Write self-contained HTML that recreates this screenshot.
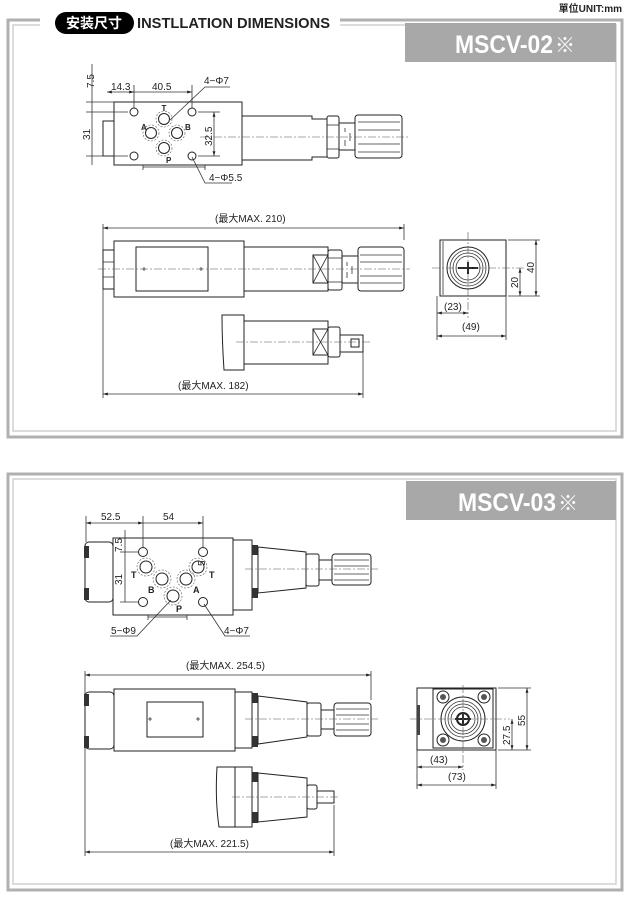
<!DOCTYPE html>
<html><head><meta charset="utf-8"><style>
html,body{margin:0;padding:0;background:#fff;}
svg{display:block;}
text{font-family:"Liberation Sans","Noto Sans CJK SC",sans-serif;fill:#222;}
.d{stroke:#333;stroke-width:0.8;fill:none;}
.o{stroke:#222;stroke-width:1;fill:#fff;}
.c{stroke:#555;stroke-width:0.6;stroke-dasharray:8 2 2 2;fill:none;}
.t{font-size:10px;}
</style></head><body>
<svg width="630" height="897" viewBox="0 0 630 897" xmlns="http://www.w3.org/2000/svg">
<defs>
<marker id="a" viewBox="0 0 10 10" refX="10" refY="5" markerWidth="6" markerHeight="6" orient="auto-start-reverse"><path d="M0,2 L10,5 L0,8z" fill="#222"/></marker>
</defs>
<text x="622" y="12" font-size="10" font-weight="bold" text-anchor="end">單位UNIT:mm</text>
<path d="M40,20 H8 V437 H622 V20 H340" fill="none" stroke="#b0b0b0" stroke-width="3"/>
<path d="M40,25 H13 V431 H616 V25 H340" fill="none" stroke="#d0d0d0" stroke-width="1.5"/>
<rect x="55" y="12" width="79" height="22" rx="11" fill="#000"/>
<text x="94" y="28" font-size="14" font-weight="bold" style="fill:#fff" text-anchor="middle">安装尺寸</text>
<text x="137" y="28" font-size="15" font-weight="bold" textLength="193" lengthAdjust="spacingAndGlyphs">INSTLLATION DIMENSIONS</text>
<rect x="405" y="23" width="211" height="39" fill="#a8a8a8"/>
<text x="455" y="53" font-size="25" font-weight="bold" style="fill:#fff" textLength="98" lengthAdjust="spacingAndGlyphs">MSCV-02</text>
<text x="555" y="52" font-size="20" style="fill:#fff">※</text>

<rect x="8" y="474" width="614" height="416" fill="none" stroke="#b0b0b0" stroke-width="3"/>
<rect x="13" y="479" width="603" height="405" fill="none" stroke="#d0d0d0" stroke-width="1.5"/>
<rect x="406" y="481" width="210" height="39" fill="#a8a8a8"/>
<text x="458" y="511" font-size="25" font-weight="bold" style="fill:#fff" textLength="98" lengthAdjust="spacingAndGlyphs">MSCV-03</text>
<text x="558" y="510" font-size="20" style="fill:#fff">※</text>

<g>
<rect class="o" x="103" y="121" width="11" height="35"/>
<rect class="o" x="114" y="102" width="128" height="63"/>
<path class="o" d="M242,116 H312 V119 H327 V157 H312 V160 H242Z"/>
<rect class="o" x="327" y="116" width="12" height="42" rx="2"/>
<line class="d" x1="327" y1="125" x2="339" y2="125"/><line class="d" x1="327" y1="149" x2="339" y2="149"/>
<rect class="o" x="339" y="123" width="16" height="27"/>
<rect class="o" x="355" y="115" width="47" height="43" rx="3"/>
<line class="d" x1="358" y1="122" x2="400" y2="122"/><line class="d" x1="358" y1="130" x2="400" y2="130"/><line class="d" x1="358" y1="144" x2="400" y2="144"/><line class="d" x1="358" y1="152" x2="400" y2="152"/>
<path class="d" d="M345,128 v4 M345,140 v6 M350,133 v8"/>
<line class="c" x1="200" y1="137" x2="410" y2="137"/>
<g class="o">
<circle cx="134" cy="112" r="4"/><circle cx="192" cy="112" r="4"/><circle cx="134" cy="156" r="4"/><circle cx="192" cy="156" r="4"/>
<circle cx="164" cy="119" r="5.5"/><circle cx="151" cy="133" r="5.5"/><circle cx="177" cy="133" r="5.5"/><circle cx="164" cy="148" r="5.5"/>
</g>
<g fill="none" stroke="#555" stroke-width="0.6" stroke-dasharray="2 1.5">
<circle cx="164" cy="119" r="8"/><circle cx="151" cy="133" r="8"/><circle cx="177" cy="133" r="8"/><circle cx="164" cy="148" r="8"/>
</g>
<text x="164" y="111" font-size="8" font-weight="bold" text-anchor="middle">T</text>
<text x="141" y="130" font-size="8" font-weight="bold">A</text>
<text x="185" y="130" font-size="8" font-weight="bold">B</text>
<text x="166" y="163" font-size="8" font-weight="bold">P</text>
<line class="d" x1="107" y1="92" x2="134" y2="92" marker-start="url(#a)" marker-end="url(#a)"/>
<line class="d" x1="134" y1="92" x2="192" y2="92" marker-end="url(#a)"/>
<line class="d" x1="134" y1="85" x2="134" y2="108"/><line class="d" x1="192" y1="85" x2="192" y2="108"/>
<text class="t" x="111" y="90">14.3</text><text class="t" x="152" y="90">40.5</text>
<line class="d" x1="92" y1="64" x2="92" y2="165"/>
<line class="d" x1="86" y1="102" x2="114" y2="102"/><line class="d" x1="86" y1="112" x2="128" y2="112"/><line class="d" x1="86" y1="156" x2="128" y2="156"/>
<text class="t" transform="translate(94,88) rotate(-90)">7.5</text>
<text class="t" transform="translate(90,140) rotate(-90)">31</text>
<line class="d" x1="214" y1="112" x2="214" y2="156" marker-start="url(#a)" marker-end="url(#a)"/>
<line class="d" x1="198" y1="112" x2="220" y2="112"/><line class="d" x1="198" y1="156" x2="220" y2="156"/>
<text class="t" transform="translate(212,146) rotate(-90)">32.5</text>
<path class="d" d="M170,120 L205,87 H230"/><text class="t" x="204" y="84">4−Φ7</text>
<path class="d" d="M192,157 L205,183 H232"/><text class="t" x="209" y="181">4−Φ5.5</text>
<path class="d" d="M143,165 v5 M205,165 v5 M143,167 H205"/>
</g>

<g>
<line class="d" x1="103" y1="224" x2="103" y2="398"/><line class="d" x1="404" y1="224" x2="404" y2="240"/>
<line class="d" x1="103" y1="228" x2="404" y2="228" marker-start="url(#a)" marker-end="url(#a)"/>
<text class="t" x="215" y="222">(最大MAX. 210)</text>
<rect class="o" x="103" y="250" width="11" height="39"/>
<line class="d" x1="103" y1="262" x2="114" y2="262"/><line class="d" x1="103" y1="277" x2="114" y2="277"/>
<rect class="o" x="114" y="241" width="130" height="56"/>
<rect class="o" x="136" y="247" width="72" height="44"/>
<path class="d" d="M142,269 h4 M144,267 v4 M199,269 h4 M201,267 v4"/>
<rect class="o" x="244" y="247" width="84" height="44"/>
<rect class="o" x="313" y="255" width="15" height="28"/><path class="d" d="M313,255 L328,283 M328,255 L313,283"/>
<rect class="o" x="328" y="250" width="14" height="40" rx="2"/>
<line class="d" x1="328" y1="258" x2="342" y2="258"/><line class="d" x1="328" y1="282" x2="342" y2="282"/>
<rect class="o" x="342" y="256" width="16" height="27"/>
<path class="d" d="M347,262 v4 M347,272 v6 M352,266 v8"/>
<rect class="o" x="358" y="247" width="46" height="44" rx="3"/>
<line class="d" x1="360" y1="255" x2="402" y2="255"/><line class="d" x1="360" y1="262" x2="402" y2="262"/><line class="d" x1="360" y1="276" x2="402" y2="276"/><line class="d" x1="360" y1="283" x2="402" y2="283"/>
<line class="c" x1="98" y1="269" x2="410" y2="269"/>
<path class="o" d="M222,315 H244 V370 H224 Q222,340 222,315Z"/>
<rect class="o" x="244" y="321" width="84" height="43"/>
<rect class="o" x="313" y="329" width="15" height="26"/><path class="d" d="M313,329 L328,355 M328,329 L313,355"/>
<rect class="o" x="328" y="327" width="12" height="30" rx="2"/>
<rect class="o" x="340" y="335" width="23" height="17"/>
<rect class="o" x="351" y="339" width="8" height="8"/>
<line class="c" x1="236" y1="342" x2="370" y2="342"/>
<line class="d" x1="363" y1="352" x2="363" y2="398"/>
<line class="d" x1="103" y1="394" x2="363" y2="394" marker-start="url(#a)" marker-end="url(#a)"/>
<text class="t" x="178" y="389">(最大MAX. 182)</text>
</g>

<g>
<rect class="o" x="440" y="240" width="66" height="56"/>
<line class="d" x1="443" y1="241" x2="443" y2="295"/>
<circle class="o" cx="468" cy="268" r="21"/><circle class="d" cx="468" cy="268" r="18"/><circle class="d" cx="468" cy="268" r="15"/><circle class="d" cx="468" cy="268" r="12"/>
<path d="M458,268 H478 M468,262 V274" stroke="#222" stroke-width="2"/>
<line class="c" x1="432" y1="268" x2="525" y2="268"/><line class="c" x1="468" y1="232" x2="468" y2="318"/>
<line class="d" x1="508" y1="240" x2="540" y2="240"/><line class="d" x1="508" y1="296" x2="540" y2="296"/>
<line class="d" x1="536" y1="240" x2="536" y2="296" marker-start="url(#a)" marker-end="url(#a)"/>
<line class="d" x1="520" y1="268" x2="520" y2="296" marker-start="url(#a)" marker-end="url(#a)"/>
<text class="t" transform="translate(534,273) rotate(-90)">40</text>
<text class="t" transform="translate(518,288) rotate(-90)">20</text>
<line class="d" x1="437" y1="296" x2="437" y2="340"/><line class="d" x1="506" y1="296" x2="506" y2="340"/>
<line class="d" x1="437" y1="313" x2="468" y2="313" marker-start="url(#a)" marker-end="url(#a)"/>
<line class="d" x1="437" y1="336" x2="506" y2="336" marker-start="url(#a)" marker-end="url(#a)"/>
<text class="t" x="444" y="310">(23)</text><text class="t" x="462" y="330">(49)</text>
</g>

<g>
<rect class="o" x="85" y="542" width="28" height="60" rx="4"/>
<rect x="84" y="546" width="5" height="12" fill="#333"/><rect x="84" y="588" width="5" height="12" fill="#333"/>
<rect class="o" x="113" y="538" width="120" height="77"/>
<rect class="o" x="233" y="540" width="19" height="70"/>
<rect x="252" y="545" width="6" height="10" fill="#333"/><rect x="252" y="588" width="6" height="10" fill="#333"/>
<path class="o" d="M258,547 L306,552 V588 L258,593Z"/>
<rect class="o" x="306" y="554" width="13" height="32" rx="2"/>
<rect class="o" x="319" y="560" width="13" height="20"/>
<rect class="o" x="332" y="554" width="39" height="31" rx="3"/>
<line class="d" x1="334" y1="560" x2="369" y2="560"/><line class="d" x1="334" y1="566" x2="369" y2="566"/><line class="d" x1="334" y1="574" x2="369" y2="574"/><line class="d" x1="334" y1="580" x2="369" y2="580"/>
<line class="c" x1="245" y1="569" x2="378" y2="569"/>
<g class="o">
<circle cx="143" cy="552" r="4.5"/><circle cx="203" cy="552" r="4.5"/><circle cx="143" cy="602" r="4.5"/><circle cx="203" cy="602" r="4.5"/>
<circle cx="146" cy="567" r="6"/><circle cx="162" cy="579" r="6"/><circle cx="186" cy="579" r="6"/><circle cx="198" cy="567" r="6"/><circle cx="173" cy="596" r="6"/>
</g>
<g fill="none" stroke="#555" stroke-width="0.6" stroke-dasharray="2 1.5">
<circle cx="146" cy="567" r="9"/><circle cx="162" cy="579" r="9"/><circle cx="186" cy="579" r="9"/><circle cx="198" cy="567" r="9"/><circle cx="173" cy="596" r="9"/>
</g>
<text x="131" y="578" font-size="9" font-weight="bold">T</text>
<text x="148" y="593" font-size="9" font-weight="bold">B</text>
<text x="193" y="593" font-size="9" font-weight="bold">A</text>
<text x="209" y="578" font-size="9" font-weight="bold">T</text>
<text x="176" y="612" font-size="9" font-weight="bold">P</text>
<line class="d" x1="86" y1="516" x2="86" y2="542"/><line class="d" x1="143" y1="516" x2="143" y2="548"/><line class="d" x1="203" y1="516" x2="203" y2="548"/>
<line class="d" x1="86" y1="523" x2="143" y2="523" marker-start="url(#a)" marker-end="url(#a)"/>
<line class="d" x1="143" y1="523" x2="203" y2="523" marker-end="url(#a)"/>
<text class="t" x="101" y="520">52.5</text><text class="t" x="163" y="520">54</text>
<line class="d" x1="125" y1="530" x2="125" y2="602"/>
<line class="d" x1="120" y1="552" x2="138" y2="552"/><line class="d" x1="120" y1="602" x2="138" y2="602"/>
<text class="t" transform="translate(122,552) rotate(-90)">7.5</text>
<text class="t" transform="translate(122,585) rotate(-90)">31</text>
<text class="t" transform="translate(205,566) rotate(-90)">5</text>
<path class="d" d="M171,600 L137,636 H110"/><text class="t" x="111" y="634">5−Φ9</text>
<path class="d" d="M204,604 L225,636 H250"/><text class="t" x="224" y="634">4−Φ7</text>
<path class="d" d="M148,615 v5 M187,615 v5 M148,617 H187"/>
</g>

<g>
<line class="d" x1="85" y1="671" x2="85" y2="856"/><line class="d" x1="371" y1="671" x2="371" y2="700"/>
<line class="d" x1="85" y1="675" x2="371" y2="675" marker-start="url(#a)" marker-end="url(#a)"/>
<text class="t" x="186" y="669">(最大MAX. 254.5)</text>
<rect class="o" x="85" y="692" width="29" height="57" rx="4"/>
<rect x="84" y="694" width="5" height="12" fill="#333"/><rect x="84" y="736" width="5" height="12" fill="#333"/>
<rect class="o" x="114" y="689" width="121" height="62"/>
<rect class="o" x="147" y="702" width="56" height="35"/>
<path class="d" d="M148,719 h4 M150,717 v4 M196,719 h4 M198,717 v4"/>
<rect class="o" x="235" y="692" width="17" height="56"/>
<rect x="252" y="693" width="6" height="10" fill="#333"/><rect x="252" y="736" width="6" height="11" fill="#333"/>
<path class="o" d="M258,696 L307,702 V737 L258,744Z"/>
<rect class="o" x="307" y="703" width="14" height="33" rx="2"/>
<rect class="o" x="321" y="710" width="13" height="19"/>
<rect class="o" x="334" y="703" width="37" height="33" rx="3"/>
<line class="d" x1="336" y1="709" x2="369" y2="709"/><line class="d" x1="336" y1="715" x2="369" y2="715"/><line class="d" x1="336" y1="724" x2="369" y2="724"/><line class="d" x1="336" y1="730" x2="369" y2="730"/>
<line class="c" x1="245" y1="719" x2="378" y2="719"/>
<path class="o" d="M217,767 H235 V827 H219 Q215,800 217,767Z"/>
<rect class="o" x="235" y="767" width="17" height="60"/>
<rect x="252" y="772" width="6" height="10" fill="#333"/><rect x="252" y="812" width="6" height="11" fill="#333"/>
<path class="o" d="M258,773 L307,778 V817 L258,822Z"/>
<rect class="o" x="307" y="785" width="10" height="24" rx="2"/>
<rect class="o" x="317" y="791" width="17" height="12"/>
<line class="c" x1="232" y1="797" x2="340" y2="797"/>
<line class="d" x1="334" y1="805" x2="334" y2="856"/>
<line class="d" x1="85" y1="852" x2="334" y2="852" marker-start="url(#a)" marker-end="url(#a)"/>
<text class="t" x="170" y="847">(最大MAX. 221.5)</text>
</g>

<g>
<rect class="o" x="417" y="688" width="79" height="62"/>
<rect class="o" x="433" y="689" width="60" height="59"/>
<rect x="417" y="705" width="3" height="30" fill="#444"/>
<g><circle class="o" cx="443" cy="697" r="6"/><circle cx="443" cy="697" r="3" fill="#555"/>
<circle class="o" cx="484" cy="697" r="6"/><circle cx="484" cy="697" r="3" fill="#555"/>
<circle class="o" cx="443" cy="740" r="6"/><circle cx="443" cy="740" r="3" fill="#555"/>
<circle class="o" cx="484" cy="740" r="6"/><circle cx="484" cy="740" r="3" fill="#555"/></g>
<circle class="o" cx="463" cy="719" r="22"/><circle class="d" cx="463" cy="719" r="18"/><circle class="d" cx="463" cy="719" r="15"/><circle class="d" cx="463" cy="719" r="12"/>
<circle cx="463" cy="719" r="6" fill="none" stroke="#222" stroke-width="2"/>
<path d="M455,719 H471 M463,713 V725" stroke="#222" stroke-width="2"/>
<line class="c" x1="410" y1="719" x2="510" y2="719"/><line class="c" x1="463" y1="685" x2="463" y2="770"/>
<line class="d" x1="498" y1="688" x2="531" y2="688"/><line class="d" x1="498" y1="750" x2="531" y2="750"/>
<line class="d" x1="527" y1="688" x2="527" y2="750" marker-start="url(#a)" marker-end="url(#a)"/>
<line class="d" x1="512" y1="719" x2="512" y2="750" marker-start="url(#a)" marker-end="url(#a)"/>
<text class="t" transform="translate(525,726) rotate(-90)">55</text>
<text class="t" transform="translate(510,745) rotate(-90)">27.5</text>
<line class="d" x1="417" y1="750" x2="417" y2="789"/><line class="d" x1="496" y1="750" x2="496" y2="789"/>
<line class="d" x1="417" y1="767" x2="463" y2="767" marker-start="url(#a)" marker-end="url(#a)"/>
<line class="d" x1="417" y1="785" x2="496" y2="785" marker-start="url(#a)" marker-end="url(#a)"/>
<text class="t" x="430" y="763">(43)</text><text class="t" x="448" y="780">(73)</text>
</g>
</svg>
</body></html>
